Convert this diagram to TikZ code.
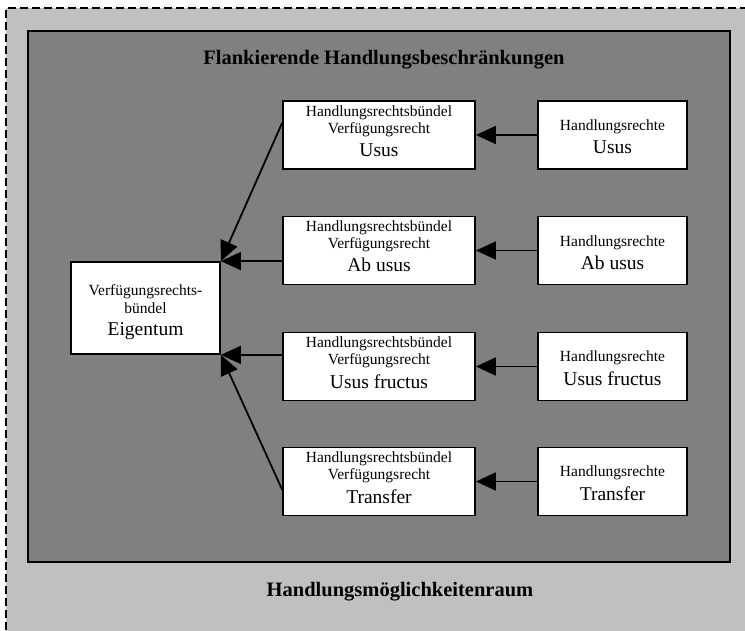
\documentclass[tikz,border=0pt]{standalone}
\usepackage{fontspec}
\setmainfont{Liberation Serif}
\usetikzlibrary{arrows.meta}
\definecolor{outergray}{RGB}{192,192,192}
\definecolor{innergray}{RGB}{128,128,128}
\newcommand{\BigLine}{\fontsize{19.5}{17}\selectfont}
\newcommand{\DepthStrut}{\rule[-8pt]{0pt}{8pt}}
\newcommand{\TopStrutA}{\rule{0pt}{18.6pt}}
\newcommand{\TopStrutB}{\rule{0pt}{14.6pt}}
\begin{document}
\begin{tikzpicture}[x=1pt,y=-1pt,
  box/.style={draw=black, line width=1.8pt, fill=white, inner sep=0pt, align=center, font=\fontsize{15.5}{17}\selectfont},
  midbox/.style={box, minimum width=192pt, minimum height=68pt},
  rightbox/.style={box, minimum width=149pt, minimum height=68pt},
  eigbox/.style={box, minimum width=149pt, minimum height=92pt},
  heading/.style={font=\fontsize{20.5}{24}\selectfont\bfseries, anchor=base, inner sep=0pt},
  conn/.style={line width=1.8pt, -{Triangle[length=20pt,width=18pt]}}]
\useasboundingbox (0,0) rectangle (745,631);
\fill[white] (0,0) rectangle (745,631);
\fill[outergray] (6,8) rectangle (760,650);
\draw[line width=1.6pt, dash pattern=on 8pt off 4pt] (760,8) -- (6,8) -- (6,650);
\draw[fill=innergray, line width=1.8pt] (28,31) rectangle (730,562);

\node[heading] (t1) at (384,65) {Flankierende Handlungsbeschränkungen};
\node[heading] (t2) at (400,596) {Handlungsmöglichkeitenraum};

\node[eigbox] (e) at (145.5,308) {\TopStrutA Verfügungsrechts-\\[1pt]bündel\\[5pt]\BigLine Eigentum};

\node[midbox] (m1) at (379,135) {Handlungsrechtsbündel\\Verfügungsrecht\\[6pt]\BigLine Usus\DepthStrut};
\node[midbox] (m2) at (379,250.5) {Handlungsrechtsbündel\\Verfügungsrecht\\[6pt]\BigLine Ab usus\DepthStrut};
\node[midbox] (m3) at (379,366.5) {Handlungsrechtsbündel\\Verfügungsrecht\\[6pt]\BigLine Usus fructus\DepthStrut};
\node[midbox] (m4) at (379,481.5) {Handlungsrechtsbündel\\Verfügungsrecht\\[6pt]\BigLine Transfer\DepthStrut};

\node[rightbox] (r1) at (612.5,135) {\TopStrutB Handlungsrechte\\[6pt]\BigLine Usus};
\node[rightbox] (r2) at (612.5,250.5) {\TopStrutB Handlungsrechte\\[6pt]\BigLine Ab usus};
\node[rightbox] (r3) at (612.5,366.5) {\TopStrutB Handlungsrechte\\[6pt]\BigLine Usus fructus};
\node[rightbox] (r4) at (612.5,481.5) {\TopStrutB Handlungsrechte\\[6pt]\BigLine Transfer};

\draw[conn] (r1.west) -- (m1.east);
\draw[conn] (r2.west) -- (m2.east);
\draw[conn] (r3.west) -- (m3.east);
\draw[conn] (r4.west) -- (m4.east);

\draw[conn] ([yshift=12pt]m1.west) -- (e.north east);
\draw[conn] (m2.west |- e.north east) -- (e.north east);
\draw[conn] (m3.west |- e.south east) -- (e.south east);
\draw[conn] ([yshift=-8pt]m4.west) -- (e.south east);
\end{tikzpicture}
\end{document}
